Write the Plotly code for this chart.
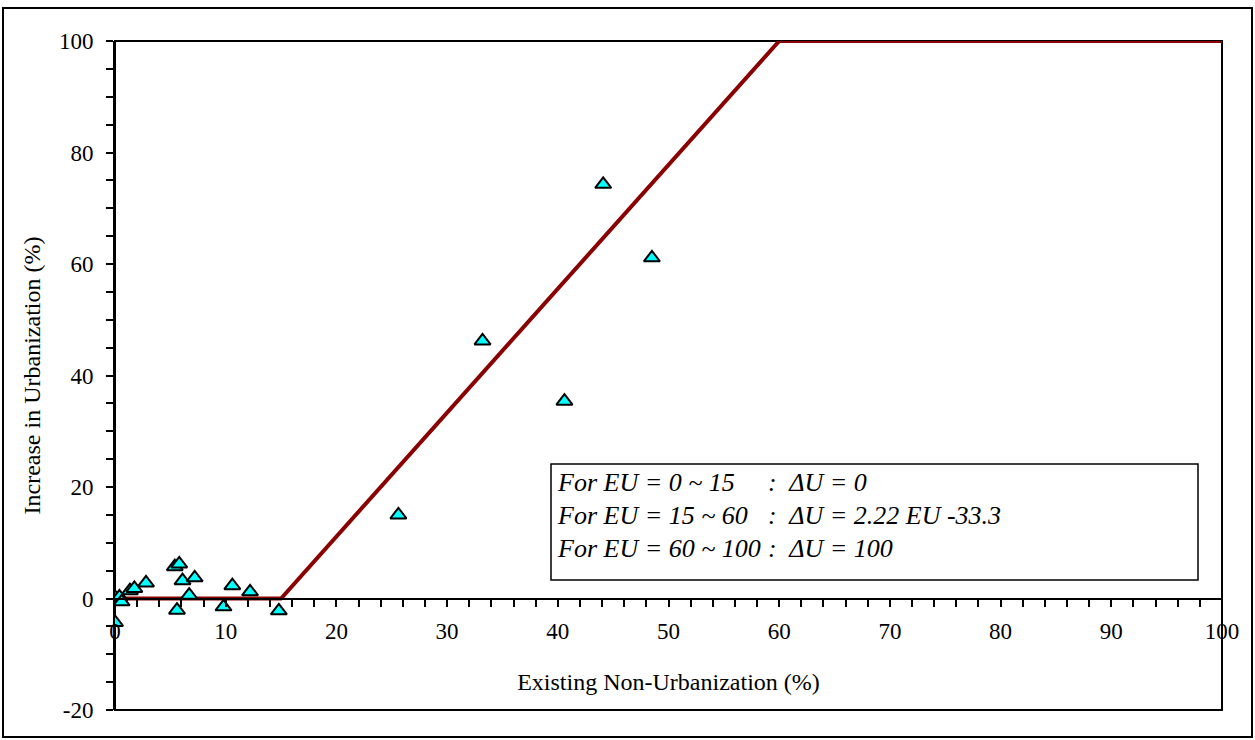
import plotly.graph_objects as go

eu_obs = [0.0, 0.4, 0.6, 1.35, 1.75, 2.8, 5.4, 5.8, 6.1, 7.2, 6.7, 5.6, 9.8, 10.6, 12.2, 14.8, 0.0,
          25.6, 33.2, 40.6, 44.1, 48.5]
du_obs = [0.2, 0.3, -0.6, 1.4, 1.8, 2.8, 5.7, 6.2, 3.2, 3.7, 0.6, -2.1, -1.5, 2.3, 1.2, -2.2, -4.3,
          15.0, 46.2, 35.4, 74.3, 61.1]

# Piecewise model line
eu_model = [0, 15, 60, 100]
du_model = [0, 0, 100, 100]

y_tickvals = [-20, 0, 20, 40, 60, 80, 100]
y_ticktext = ["-20", "0", "20", "40", "60", "80", "100"]

legend_lhs = ["For EU = 0 ~ 15", "For EU = 15 ~ 60", "For EU = 60 ~ 100"]
legend_rhs = [":  ΔU = 0", ":  ΔU = 2.22 EU -33.3", ":  ΔU = 100"]

FONT = "Liberation Serif, Times New Roman, serif"

fig = go.Figure()
fig.add_trace(go.Scatter(x=eu_model, y=du_model, mode="lines",
                         line=dict(color="#8B0000", width=4), showlegend=False,
                         hoverinfo="skip"))
fig.add_trace(go.Scatter(x=eu_obs, y=du_obs, mode="markers",
                         marker=dict(symbol="triangle-up", size=14, color="#00FFFF",
                                     line=dict(color="black", width=2)),
                         showlegend=False))

W, H = 1255, 740
L, R, T, B = 115, 33, 41, 30
pw, ph = W - L - R, H - T - B

def px2paper_x(px):
    return (px - L) / pw

def px2paper_y(py):
    return (H - B - py) / ph

shapes = [
    dict(type="rect", xref="paper", yref="paper", x0=0, y0=0, x1=1, y1=1,
         line=dict(color="black", width=2), layer="below"),
    dict(type="rect", xref="paper", yref="paper",
         x0=px2paper_x(3), x1=px2paper_x(1252), y0=px2paper_y(737), y1=px2paper_y(8),
         line=dict(color="black", width=2), layer="below"),
    dict(type="rect", xref="paper", yref="paper",
         x0=px2paper_x(551), x1=px2paper_x(1198), y0=px2paper_y(580), y1=px2paper_y(464),
         line=dict(color="black", width=1.5), fillcolor="white", layer="above"),
]

annotations = []
line_y = [482, 515, 548]
lhs_x = [555, 555, 555]
rhs_x = [766, 766, 766]
for i in range(3):
    annotations.append(dict(xref="paper", yref="paper", x=px2paper_x(lhs_x[i]), y=px2paper_y(line_y[i]),
                            text=legend_lhs[i], showarrow=False, xanchor="left", yanchor="middle",
                            font=dict(family=FONT, size=26, color="black", style="italic")))
    annotations.append(dict(xref="paper", yref="paper", x=px2paper_x(rhs_x[i]), y=px2paper_y(line_y[i]),
                            text=legend_rhs[i], showarrow=False, xanchor="left", yanchor="middle",
                            font=dict(family=FONT, size=26, color="black", style="italic")))

fig.update_layout(
    width=W, height=H,
    margin=dict(l=L, r=R, t=T, b=B),
    paper_bgcolor="white", plot_bgcolor="white",
    font=dict(family=FONT, size=23, color="black"),
    shapes=shapes, annotations=annotations,
    xaxis=dict(range=[0, 100], dtick=10, tick0=0, showgrid=False, zeroline=False,
               showline=True, linecolor="black", linewidth=2,
               anchor="free", position=1/6,
               ticks="outside", ticklen=7, tickwidth=1.5, tickcolor="black",
               minor=dict(dtick=2, ticks="outside", ticklen=7, tickwidth=1.5, tickcolor="black"),
               tickfont=dict(family=FONT, size=23), ticklabelstandoff=5,
               title=dict(text="Existing Non-Urbanization (%)", font=dict(family=FONT, size=24),
                          standoff=29)),
    yaxis=dict(range=[-20, 100], tickmode="array", tickvals=y_tickvals, ticktext=y_ticktext,
               showgrid=False, zeroline=False,
               showline=True, linecolor="black", linewidth=2,
               ticks="outside", ticklen=7, tickwidth=1.5, tickcolor="black",
               minor=dict(tickmode="linear", tick0=0, dtick=5, ticks="outside", ticklen=7,
                          tickwidth=1.5, tickcolor="black"),
               tickfont=dict(family=FONT, size=23), ticklabelstandoff=8,
               title=dict(text="Increase in Urbanization (%)", font=dict(family=FONT, size=24),
                          standoff=12)),
)

fig.write_html("out.html")
